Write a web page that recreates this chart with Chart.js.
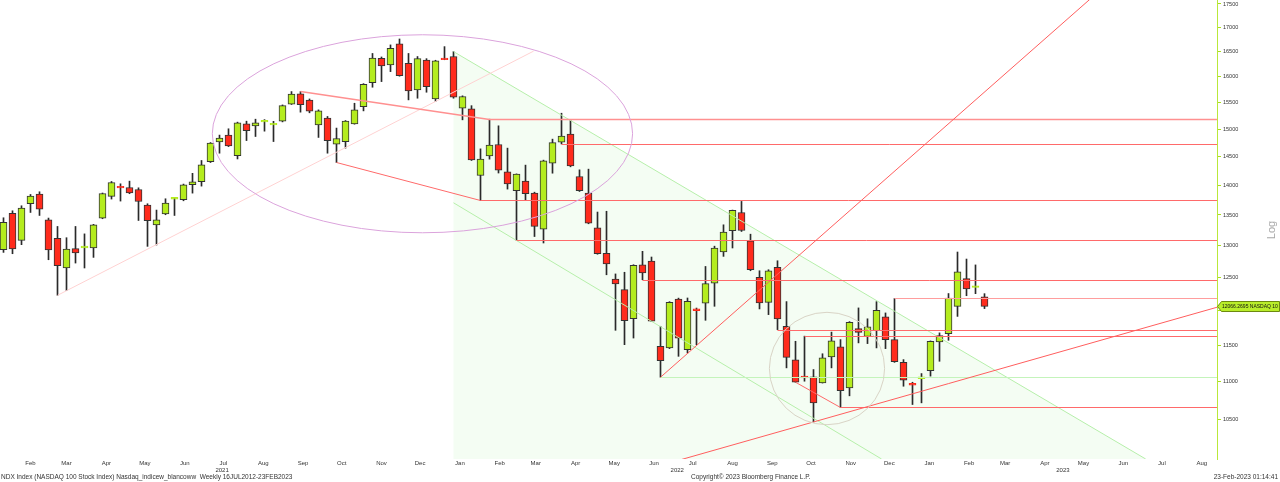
<!DOCTYPE html>
<html>
<head>
<meta charset="utf-8">
<script src="https://cdn.jsdelivr.net/npm/chart.js@4.4.0/dist/chart.umd.min.js"></script>
<style>
html, body { margin: 0; padding: 0; background: #fff; }
canvas { display: block; }
</style>
</head>
<body>
<canvas id="chart" width="1280" height="482"></canvas>
<script>
// weekly NDX candles, first bar = week of 18 Jan 2021
const startDate = Date.UTC(2021, 0, 18);
const WEEK = 7 * 864e5;

const opens = [12936, 13526, 13085, 13688, 13852, 13421, 13117, 12648, 12952, 12965,
    12963, 13449, 13812, 13985, 13965, 13930, 13666, 13338, 13516, 13765,
    13755, 14011, 14063, 14413, 14770, 14894, 14523, 15102, 15065, 15135,
    15080, 15151, 15471, 15671, 15547, 15080, 15207, 14728, 14776, 15102,
    15424, 15887, 16369, 16235, 16661, 16270, 15745, 16333, 15572, 16375,
    16405, 15395, 15382, 14172, 14518, 14722, 14237, 13908, 14074, 13870,
    13268, 14389, 14765, 14913, 14154, 13870, 13290, 12880, 12478, 12315,
    11885, 12699, 12757, 11486, 11464, 12172, 11440, 12030, 12112, 12414,
    12899, 13244, 13542, 13077, 12502, 12124, 12660, 11771, 11296, 11075,
    11063, 10982, 11337, 11478, 10915, 11740, 11626, 11711, 11909, 11582,
    11262, 10975, 11038, 11149, 11549, 11668, 12066, 12483, 12350, 12209];
const highs = [13454, 13570, 13654, 13845, 13891, 13449, 13311, 13128, 13311, 13190,
    13346, 13870, 14068, 14028, 14074, 13959, 13688, 13582, 13772, 13794,
    14023, 14210, 14436, 14758, 14894, 15010, 15133, 15151, 15188, 15180,
    15148, 15457, 15713, 15713, 15571, 15363, 15239, 15023, 15163, 15489,
    15867, 16467, 16396, 16641, 16763, 16467, 16405, 16362, 16330, 16606,
    16505, 15631, 15443, 14644, 15188, 15065, 14657, 14200, 14354, 13884,
    14442, 14820, 15300, 15176, 14271, 14283, 13549, 13562, 12556, 12582,
    12699, 12910, 12820, 11773, 12135, 12188, 12190, 12040, 12672, 12992,
    13338, 13582, 13727, 13185, 12605, 12621, 12761, 12136, 11558, 11631,
    11163, 11382, 11689, 11582, 11841, 12042, 11882, 12135, 11968, 12183,
    11300, 10990, 11108, 11563, 11678, 12257, 12899, 12788, 12696, 12255];
const lows = [12893, 12872, 13016, 13542, 13492, 12777, 12230, 12300, 12725, 12648,
    12814, 13438, 13767, 13733, 13858, 13409, 12989, 13011, 13504, 13492,
    13738, 13868, 13988, 14400, 14566, 14685, 14463, 14794, 14868, 14966,
    14776, 15138, 15465, 15320, 15308, 14851, 14566, 14400, 14657, 15095,
    15344, 15797, 15907, 16103, 16013, 15553, 15585, 15700, 15520, 16340,
    15585, 15176, 14436, 13743, 14460, 14215, 13937, 13085, 13755, 13147,
    13043, 14212, 14733, 14324, 13896, 13355, 12864, 12543, 11715, 11510,
    11604, 12467, 11841, 11058, 11454, 11346, 11393, 11510, 11860, 12066,
    12830, 12963, 13229, 12605, 12027, 11943, 11725, 11186, 10990, 11004,
    10466, 10979, 11186, 10656, 10808, 11535, 11525, 11464, 11454, 11262,
    10936, 10693, 10715, 11073, 11277, 11572, 11917, 12224, 12255, 12032];
const closes = [13377, 12947, 13616, 13818, 13599, 12931, 12683, 12947, 12883, 12995,
    13338, 13862, 14050, 13955, 13870, 13726, 13405, 13421, 13700, 13795,
    14011, 14063, 14359, 14747, 14838, 14698, 15120, 14973, 15120, 15165,
    15110, 15443, 15663, 15461, 15339, 15344, 14794, 14831, 15151, 15363,
    15855, 16376, 16215, 16573, 16024, 15725, 16362, 15809, 16316, 16340,
    15605, 15618, 14448, 14462, 14711, 14266, 14028, 14195, 13858, 13311,
    14430, 14758, 14874, 14341, 13908, 13366, 12872, 12710, 12403, 11855,
    12691, 12570, 11848, 11286, 12124, 11603, 12139, 12000, 12406, 12963,
    13219, 13576, 13245, 12621, 12115, 12605, 11880, 11332, 10992, 11050,
    10715, 11325, 11563, 10876, 11830, 11686, 11766, 12007, 11582, 11270,
    11017, 10950, 11065, 11558, 11640, 12190, 12590, 12325, 12375, 12066];

const monthNames = ['Jan', 'Feb', 'Mar', 'Apr', 'May', 'Jun', 'Jul', 'Aug', 'Sep', 'Oct', 'Nov', 'Dec'];
const yearTickText = ['2021', '2022', '2023'];
const yearTickDates = ['2021-07-07', '2022-06-26', '2023-04-22'];
const yTickValues = [10500, 11000, 11500, 12000, 12500, 13000, 13500, 14000, 14500, 15000, 15500, 16000, 16500, 17000, 17500];
const lastPriceText = '12066.2695 NASDAQ 10';

// drawn studies, in (week index, price)
const redSteps = [
    [[33, 15713], [54, 15195]],
    [[37, 14400], [53, 13743]],
    [[62, 14733]],
    [[57, 13085]],
    [[71, 12467]],
    [[86, 11725]],
    [[89, 11640]],
    [[88, 10990], [93, 10656]]
];
const pinkStep = [[99, 12183]];
const greenStep = [[73, 11058]];
const steepRay = [[73, 11058], [95.4, 13755]];
const supportLine = [[90, 10466], [135, 12058]];
const faintLine = [[6, 12230], [58.9, 16514]];
const channelTop = [[50, 16505], [126.3, 10040]];
const channelBottom = [[50, 13704], [97.2, 10024]];
const bigEllipse = [23.2, 69.9, 16850, 13208];
const smallCircle = [85.1, 97.9, 11977, 10431];

const monthTickPos = [];
const monthTickText = [];
for (let k = 1; k <= 31; k++) {
    monthTickPos.push((Date.UTC(2021, k, 1) - startDate) / WEEK + 1.0);
    monthTickText.push(monthNames[k % 12]);
}
const yearTickPos = yearTickDates.map(d => (Date.parse(d) - startDate) / WEEK);

const GREEN = '#b4ec1e';
const RED = '#ff2b1c';

const isDoji = opens.map((o, i) => Math.abs(closes[i] - o) / o < 0.0035);
const bodyFill = opens.map((o, i) => closes[i] >= o ? GREEN : RED);
const bodyEdge = opens.map((o, i) => isDoji[i] ? bodyFill[i] : '#333333');

function crossY(p0, p1, yy) {
    return p0[0] + (yy - p0[1]) * (p1[0] - p0[0]) / (p1[1] - p0[1]);
}

const overlay = {
    id: 'overlay',
    beforeDatasetsDraw(chart) {
        const { ctx, chartArea: a, scales: { x, y } } = chart;
        const P = (pt) => [x.getPixelForValue(pt[0]), y.getPixelForValue(pt[1])];
        ctx.save();
        ctx.beginPath();
        ctx.rect(a.left, a.top, a.right - a.left, a.bottom - a.top);
        ctx.clip();
        const u0 = P(channelTop[0]), u1 = P(channelTop[1]);
        ctx.fillStyle = '#f4fdf3';
        ctx.beginPath();
        ctx.moveTo(u0[0], u0[1]);
        ctx.lineTo(crossY(u0, u1, a.bottom), a.bottom);
        ctx.lineTo(u0[0], a.bottom);
        ctx.closePath();
        ctx.fill();
        ctx.restore();
    },
    afterDatasetsDraw(chart) {
        const { ctx, chartArea: a, scales: { x, y } } = chart;
        const P = (pt) => [x.getPixelForValue(pt[0]), y.getPixelForValue(pt[1])];
        ctx.save();
        ctx.beginPath();
        ctx.rect(a.left, a.top, a.right - a.left, a.bottom - a.top);
        ctx.clip();
        ctx.lineWidth = 1;

        const step = (pts, color, width) => {
            ctx.strokeStyle = color;
            ctx.lineWidth = width || 1;
            ctx.beginPath();
            const px = pts.map(P);
            px.forEach((p, k) => {
                const yy = k === px.length - 1 ? Math.round(p[1]) + 0.5 : p[1];
                if (k === 0) ctx.moveTo(p[0], yy); else ctx.lineTo(p[0], yy);
            });
            const last = px[px.length - 1];
            ctx.lineTo(a.right, Math.round(last[1]) + 0.5);
            ctx.stroke();
        };

        // channel lines
        ctx.strokeStyle = '#b6efaa';
        [channelTop, channelBottom].forEach(seg => {
            const p0 = P(seg[0]), p1 = P(seg[1]);
            ctx.beginPath();
            ctx.moveTo(p0[0], p0[1]);
            ctx.lineTo(crossY(p0, p1, a.bottom), a.bottom);
            ctx.stroke();
        });

        // faint pink line
        let f0 = P(faintLine[0]), f1 = P(faintLine[1]);
        ctx.strokeStyle = '#ffd2d2';
        ctx.beginPath();
        ctx.moveTo(f0[0], f0[1]);
        ctx.lineTo(f1[0], f1[1]);
        ctx.stroke();

        step(greenStep, '#c4f4bb');
        redSteps.forEach((pts, k) => step(pts, k === 0 ? '#ff9090' : '#ff6a6a', k === 0 ? 1.6 : 1));
        step(pinkStep, '#ff9d9d');

        // steep ray
        let r0 = P(steepRay[0]), r1 = P(steepRay[1]);
        ctx.strokeStyle = '#ff5e5e';
        ctx.lineWidth = 1;
        ctx.beginPath();
        ctx.moveTo(r0[0], r0[1]);
        ctx.lineTo(crossY(r0, r1, a.top - 5), a.top - 5);
        ctx.stroke();

        // rising support line
        let s0 = P(supportLine[0]), s1 = P(supportLine[1]);
        const slope = (s1[1] - s0[1]) / (s1[0] - s0[0]);
        ctx.beginPath();
        ctx.moveTo(a.left, s0[1] + (a.left - s0[0]) * slope);
        ctx.lineTo(a.right, s0[1] + (a.right - s0[0]) * slope);
        ctx.stroke();

        const ell = (b, color) => {
            const l = x.getPixelForValue(b[0]), r = x.getPixelForValue(b[1]);
            const t = y.getPixelForValue(b[2]), bt = y.getPixelForValue(b[3]);
            ctx.strokeStyle = color;
            ctx.beginPath();
            ctx.ellipse((l + r) / 2, (t + bt) / 2, (r - l) / 2, (bt - t) / 2, 0, 0, Math.PI * 2);
            ctx.stroke();
        };
        ell(bigEllipse, '#dba3dc');
        ell(smallCircle, '#d9d4c6');
        ctx.restore();
    },
    afterDraw(chart) {
        const { ctx, chartArea: a, scales: { y } } = chart;
        ctx.save();
        // last price tag
        const ty = Math.round(y.getPixelForValue(closes[closes.length - 1]));
        ctx.fillStyle = '#b9ee2a';
        ctx.strokeStyle = '#6d8a10';
        ctx.lineWidth = 1;
        ctx.beginPath();
        ctx.moveTo(a.right + 0.5, ty + 0.5);
        ctx.lineTo(a.right + 4.5, ty - 4.5);
        ctx.lineTo(1279.5, ty - 4.5);
        ctx.lineTo(1279.5, ty + 5.5);
        ctx.lineTo(a.right + 4.5, ty + 5.5);
        ctx.closePath();
        ctx.fill();
        ctx.stroke();
        ctx.fillStyle = '#111';
        ctx.font = '5px "Liberation Sans"';
        ctx.textBaseline = 'middle';
        ctx.textAlign = 'left';
        ctx.fillText(lastPriceText, a.right + 5, ty + 0.5);

        // Log caption
        ctx.translate(1272, 230);
        ctx.rotate(-Math.PI / 2);
        ctx.fillStyle = '#a8a8a8';
        ctx.font = '11px "Liberation Sans"';
        ctx.textAlign = 'center';
        ctx.textBaseline = 'middle';
        ctx.fillText('Log', 0, 0);
        ctx.setTransform(1, 0, 0, 1, 0, 0);

        // footer
        ctx.fillStyle = '#333';
        ctx.font = '6.5px "Liberation Sans"';
        ctx.textBaseline = 'middle';
        ctx.textAlign = 'left';
        ctx.fillText('NDX Index (NASDAQ 100 Stock Index) Nasdaq_indicew_blancoww  Weekly 16JUL2012-23FEB2023', 1, 477);
        ctx.fillText('Copyright\u00a9 2023 Bloomberg Finance L.P.', 691, 477);
        ctx.textAlign = 'right';
        ctx.fillText('23-Feb-2023 01:14:41', 1278, 477);
        ctx.restore();
    }
};

const xMin = -3.5 / 9;

new Chart(document.getElementById('chart'), {
    type: 'bar',
    data: {
        datasets: [
            {
                label: 'body',
                data: opens.map((o, i) => ({ x: i, y: [o, closes[i]] })),
                backgroundColor: bodyFill,
                borderColor: bodyEdge,
                borderWidth: 1,
                borderSkipped: false,
                barThickness: 7,
                grouped: false,
                order: 0
            },
            {
                label: 'wick',
                data: lows.map((l, i) => ({ x: i, y: [l, highs[i]] })),
                backgroundColor: '#2a2a2a',
                borderWidth: 0,
                barThickness: 1,
                grouped: false,
                order: 1
            }
        ]
    },
    options: {
        responsive: false,
        animation: false,
        devicePixelRatio: 1,
        layout: { padding: 0 },
        plugins: {
            legend: { display: false },
            tooltip: { enabled: false }
        },
        scales: {
            x: {
                type: 'linear',
                offset: false,
                min: xMin,
                max: xMin + 1217 / 9,
                grid: { display: false, drawTicks: false, offset: false },
                border: { display: false },
                ticks: {
                    autoSkip: false,
                    maxRotation: 0,
                    minRotation: 0,
                    padding: 1,
                    color: '#333',
                    font: { family: 'Liberation Sans', size: 6, lineHeight: 1.15 },
                    callback: (v, i) => i < monthTickText.length ? monthTickText[i] : ['', yearTickText[i - monthTickText.length]]
                },
                afterBuildTicks: s => {
                    s.ticks = monthTickPos.concat(yearTickPos).map(v => ({ value: v }));
                },
                afterFit: s => {
                    s.height = 23;
                    s.paddingLeft = 0;
                    s.paddingRight = 0;
                }
            },
            y: {
                type: 'logarithmic',
                position: 'right',
                min: 10000,
                max: 17586,
                grid: { drawOnChartArea: false, drawTicks: true, tickLength: 4, color: '#a9dc20' },
                border: { display: true, color: '#b9e83a' },
                ticks: {
                    autoSkip: false,
                    padding: 2,
                    color: '#333',
                    font: { family: 'Liberation Sans', size: 5.5 },
                    callback: v => String(v)
                },
                afterBuildTicks: s => {
                    s.ticks = yTickValues.map(v => ({ value: v }));
                },
                afterFit: s => {
                    s.width = 63;
                    s.paddingTop = 0;
                    s.paddingBottom = 0;
                }
            }
        }
    },
    plugins: [overlay]
});
</script>
</body>
</html>
